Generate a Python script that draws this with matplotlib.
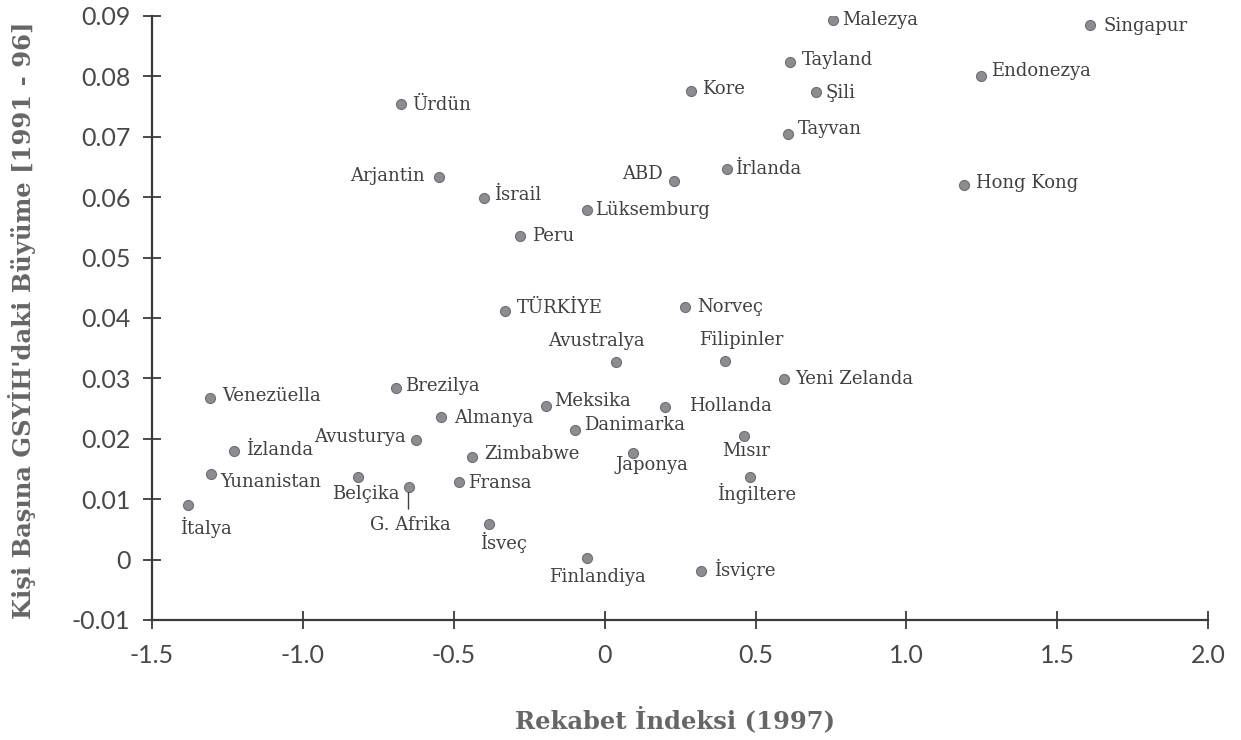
import matplotlib
matplotlib.use("Agg")
import matplotlib.pyplot as plt

# Rekabet indeksi (1997) ve kişi başına GSYİH büyümesi (1991-96)
countries = [
    "Malezya", "Singapur", "Tayland", "Endonezya", "Kore", "Şili", "Ürdün",
    "Tayvan", "İrlanda", "ABD", "Arjantin", "Hong Kong", "İsrail",
    "Lüksemburg", "Peru", "TÜRKİYE", "Norveç", "Avustralya", "Filipinler",
    "Yeni Zelanda", "Brezilya", "Venezüella", "Meksika", "Hollanda",
    "Almanya", "Danimarka", "Avusturya", "Mısır", "İzlanda", "Zimbabwe",
    "Japonya", "Yunanistan", "Belçika", "İngiltere", "Fransa", "G. Afrika",
    "İtalya", "İsveç", "Finlandiya", "İsviçre",
]
competitiveness = [
    0.758, 1.609, 0.615, 1.248, 0.287, 0.699, -0.676,
    0.608, 0.404, 0.231, -0.550, 1.191, -0.400,
    -0.058, -0.281, -0.331, 0.267, 0.038, 0.400,
    0.596, -0.693, -1.307, -0.194, 0.201,
    -0.543, -0.098, -0.626, 0.463, -1.228, -0.440,
    0.094, -1.304, -0.819, 0.483, -0.483, -0.650,
    -1.380, -0.384, -0.058, 0.320,
]
growth = [
    0.0894, 0.0885, 0.0823, 0.0801, 0.0776, 0.0774, 0.0755,
    0.0704, 0.0646, 0.0626, 0.0633, 0.0620, 0.0598,
    0.0578, 0.0535, 0.0412, 0.0418, 0.0327, 0.0328,
    0.0299, 0.0284, 0.0267, 0.0254, 0.0252,
    0.0236, 0.0214, 0.0198, 0.0204, 0.0179, 0.0170,
    0.0176, 0.0141, 0.0136, 0.0136, 0.0128, 0.0120,
    0.0090, 0.0059, 0.0002, -0.0019,
]

x_ticks = [-1.5, -1.0, -0.5, 0, 0.5, 1.0, 1.5, 2.0]
x_tick_labels = ["-1.5", "-1.0", "-0.5", "0", "0.5", "1.0", "1.5", "2.0"]
y_ticks = [-0.01, 0, 0.01, 0.02, 0.03, 0.04, 0.05, 0.06, 0.07, 0.08, 0.09]
y_tick_labels = ["-0.01", "0", "0.01", "0.02", "0.03", "0.04", "0.05",
                 "0.06", "0.07", "0.08", "0.09"]

x_title = "Rekabet İndeksi (1997)"
y_title = "Kişi Başına GSYİH'daki Büyüme [1991 - 96]"

# label placement: (dx, dy) in pixels from the point, horizontal alignment
placement = {
    "Malezya": (9, 0, "left"), "Singapur": (13, -1, "left"),
    "Tayland": (12, 2, "left"), "Endonezya": (10, 5, "left"),
    "Kore": (11, 2, "left"), "Şili": (10, -1, "left"),
    "Ürdün": (12, -1, "left"), "Tayvan": (10, 5, "left"),
    "İrlanda": (9, 0, "left"), "ABD": (-12, 7, "right"),
    "Arjantin": (-14, 1, "right"), "Hong Kong": (12, 2, "left"),
    "İsrail": (10, 3, "left"), "Lüksemburg": (8, 0, "left"),
    "Peru": (12, 0, "left"), "TÜRKİYE": (12, 3, "left"),
    "Norveç": (12, 0, "left"), "Avustralya": (-20, 21, "center"),
    "Filipinler": (16, 21, "center"), "Yeni Zelanda": (11, 0, "left"),
    "Brezilya": (10, 2, "left"), "Venezüella": (12, 2, "left"),
    "Meksika": (8, 5, "left"), "Hollanda": (24, 1, "left"),
    "Almanya": (13, -1, "left"), "Danimarka": (9, 5, "left"),
    "Avusturya": (-10, 3, "right"), "Mısır": (2, -15, "center"),
    "İzlanda": (12, 1, "left"), "Zimbabwe": (12, 3, "left"),
    "Japonya": (19, -12, "center"), "Yunanistan": (9, -8, "left"),
    "Belçika": (8, -17, "center"), "İngiltere": (6, -16, "center"),
    "Fransa": (9, -1, "left"), "G. Afrika": (2, -38, "center"),
    "İtalya": (-8, -22, "left"), "İsveç": (-9, -18, "left"),
    "Finlandiya": (10, -19, "center"), "İsviçre": (13, 2, "left"),
}

axis_color = "#3a3a3a"
tick_color = "#484848"
label_color = "#404040"
title_color = "#666666"

fig = plt.figure(figsize=(12.41, 7.40), dpi=100)
ax = fig.add_axes([0.1225, 0.1622, 0.8510, 0.8162])

ax.scatter(competitiveness, growth, s=52, color="#8c8c92",
           edgecolors="#6e6e72", linewidths=0.8, zorder=3)

for name, xv, yv in zip(countries, competitiveness, growth):
    dx, dy, ha = placement[name]
    ax.annotate(name, (xv, yv), xytext=(dx, dy), textcoords="offset pixels",
                ha=ha, va="center", fontsize=13, family="DejaVu Serif",
                color=label_color)

# pin line from the G. Afrika point down toward its label
ga = countries.index("G. Afrika")
ax.annotate("", (competitiveness[ga], growth[ga]), xytext=(0, -22),
            textcoords="offset pixels",
            arrowprops=dict(arrowstyle="-", color=label_color, lw=1.0,
                            shrinkA=0, shrinkB=4))

ax.set_xlim(-1.5, 2.0)
ax.set_ylim(-0.01, 0.09)
ax.set_xticks(x_ticks)
ax.set_xticklabels(x_tick_labels)
ax.set_yticks(y_ticks)
ax.set_yticklabels(y_tick_labels)

for side in ("top", "right"):
    ax.spines[side].set_visible(False)
for side in ("left", "bottom"):
    ax.spines[side].set_color(axis_color)
    ax.spines[side].set_linewidth(1.6)

ax.tick_params(axis="both", direction="inout", length=13, width=1.3,
               color=axis_color, labelcolor=tick_color, labelsize=18)
ax.tick_params(axis="x", pad=11)
ax.tick_params(axis="y", pad=9)
for lbl in ax.get_xticklabels() + ax.get_yticklabels():
    lbl.set_family("Lato")
    lbl.set_fontweight("normal")

fig.text(675 / 1241, 1 - 720 / 740, x_title, ha="center", va="center",
         fontsize=17.5, fontweight="bold", family="DejaVu Serif",
         color=title_color)
fig.text(22 / 1241, 1 - 320 / 740, y_title, ha="center", va="center",
         rotation=90, fontsize=17.5, fontweight="bold", family="DejaVu Serif",
         color=title_color)

fig.savefig("out.png", dpi=100, facecolor="white")
